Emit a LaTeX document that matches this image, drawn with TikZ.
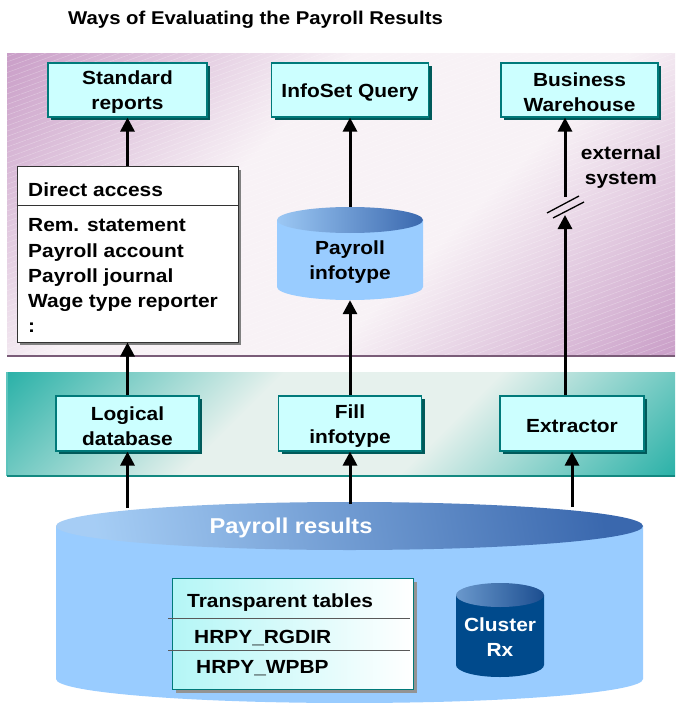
\documentclass[tikz,border=0pt]{standalone}
\usepackage{fontspec}
\setmainfont{Liberation Sans}[FakeStretch=1.1]
\usetikzlibrary{arrows.meta,shadows,patterns.meta,calc}
\definecolor{boxfill}{HTML}{CCFFFF}
\definecolor{boxline}{HTML}{007A7A}
\definecolor{boxshadow}{HTML}{005A5A}
\definecolor{panelpurple}{HTML}{C596C3}
\definecolor{panellight}{HTML}{F8F2F6}
\definecolor{panelline}{HTML}{7A5C78}
\definecolor{tealdark}{HTML}{18ABA1}
\definecolor{teallight}{HTML}{E6F1ED}
\definecolor{cylbody}{HTML}{99CCFF}
\definecolor{cyltopL}{HTML}{9CC8F4}
\definecolor{cyltopR}{HTML}{3A68AE}
\definecolor{clbody}{HTML}{004A8C}
\definecolor{cltopL}{HTML}{6A98CC}
\definecolor{cltopR}{HTML}{1C4E90}
\definecolor{ttcyan}{HTML}{B4F6F6}
\pgfdeclareverticalshading{purpshade}{100bp}{color(0bp)=(panelpurple); color(12bp)=(panelpurple); color(40bp)=(panellight); color(60bp)=(panellight); color(88bp)=(panelpurple); color(100bp)=(panelpurple)}
\pgfdeclareverticalshading{tealshade}{100bp}{color(0bp)=(tealdark); color(12bp)=(tealdark); color(40bp)=(teallight); color(60bp)=(teallight); color(88bp)=(tealdark); color(100bp)=(tealdark)}
\begin{document}
\begin{tikzpicture}[x=1pt,y=-1pt,
  font=\bfseries\fontsize{19}{25}\selectfont,
  box/.style={draw=boxline, line width=1.2pt, fill=boxfill, minimum height=54pt,
    inner sep=2pt,
    drop shadow={shadow xshift=3pt, shadow yshift=-3pt, fill=boxshadow, opacity=1},
    label={[align=center, yshift=-2.5pt, inner sep=0pt]center:#1}},
  arr/.style={line width=3pt, -{Triangle[width=14pt,length=14pt]}},
  lbl/.style={anchor=base west, inner sep=0pt}]
\useasboundingbox (0,0) rectangle (675,703);
\fill[white] (0,0) rectangle (675,703);
% title
\node[lbl, font=\bfseries\fontsize{18.5}{22}\selectfont] (title) at (68,25) {Ways of Evaluating the Payroll Results};
% purple panel
\shade[shading=purpshade, shading angle=45] (7,54) rectangle (675,356);
\fill[pattern={Lines[angle=20,distance=5pt,line width=0.5pt]}, pattern color=white, opacity=0.3] (7,54) rectangle (675,356);
\draw[line width=2pt, panelline] (7,356) -- (675,356);
% teal panel
\shade[shading=tealshade, shading angle=45] (7,372) rectangle (675,476);
\draw[line width=1.5pt, tealdark!70!white] (7,372) -- (7,476);
\draw[line width=1.2pt, tealdark!80!black] (7,476) -- (675,476);
% top boxes
\node[box={Standard\\reports}, minimum width=159pt] (std) at (127.5,90) {};
\node[box={InfoSet Query}, minimum width=157pt] (isq) at (350,90) {};
\node[box={Business\\Warehouse}, minimum width=157pt] (bw) at (579.5,90) {};
% direct access
\node[draw=black!80, line width=1pt, fill=white, minimum width=221pt, minimum height=175pt,
  drop shadow={shadow xshift=3pt, shadow yshift=-3pt, fill=gray, opacity=1}] (da) at (127.5,254.5) {};
\coordinate (hl) at (0,206);
\draw[line width=1pt, black!80] (da.west |- hl) -- (da.east |- hl);
\node[lbl] (da0) at (28,197) {Direct access};
\node[lbl] (da1) at (28,232) {Rem. statement};
\node[lbl] (da2) at (28,257) {Payroll account};
\node[lbl] (da3) at (28,282) {Payroll journal};
\node[lbl] (da4) at (28,307) {Wage type reporter};
\node[lbl] (da5) at (28,332) {:};
% payroll infotype cylinder
\fill[cylbody] (277,220) -- (277,287) arc[start angle=180, end angle=0, x radius=73, y radius=13] -- (423,220) -- cycle;
\shade[left color=cyltopL, right color=cyltopR] (350,220) ellipse[x radius=73, y radius=13];
\node[minimum width=146pt, minimum height=93pt, inner sep=0pt] (pit) at (350,253.5) {};
\node[align=center] (pitt) at (350,262) {Payroll\\infotype};
% middle boxes
\node[box={Logical\\database}, minimum width=143pt, minimum height=55pt] (ldb) at (127.5,423.5) {};
\node[box={Fill\\infotype}, minimum width=143pt, minimum height=55pt] (fit) at (350,423.5) {};
\node[box={Extractor}, minimum width=144pt, minimum height=55pt] (ext) at (572,423.5) {};
% big cylinder
\fill[cylbody] (56,526) -- (56,679) arc[start angle=180, end angle=0, x radius=293.5, y radius=24] -- (643,526) -- cycle;
\shade[left color=cyltopL!90!white, right color=cyltopR, shading angle=100] (349.5,526) ellipse[x radius=293.5, y radius=24];
\node[text=white, font=\bfseries\fontsize{21.5}{26}\selectfont] (prt) at (291,528) {Payroll results};
% transparent tables
\node[draw=boxline, line width=1pt, left color=ttcyan, right color=white, minimum width=241pt, minimum height=111pt,
  drop shadow={shadow xshift=4pt, shadow yshift=-4pt, fill=gray!85, opacity=1}] (tt) at (292.5,633.5) {};
\draw[line width=1pt, gray!70!black] (168,618) -- (410,618);
\draw[line width=1pt, gray!70!black] (168,650) -- (410,650);
\node[lbl] (tt0) at (187,607) {Transparent tables};
\node[lbl] (tt1) at (194,643) {HRPY\_RGDIR};
\node[lbl] (tt2) at (196,673) {HRPY\_WPBP};
% cluster
\fill[clbody] (456,595) -- (456,665) arc[start angle=180, end angle=0, x radius=44, y radius=12] -- (544,595) -- cycle;
\shade[left color=cltopL, right color=cltopR] (500,595) ellipse[x radius=44, y radius=12];
\node[text=white, align=center] (clu) at (500,637) {Cluster\\Rx};
% connectors
\coordinate (s1) at (127.5,508);
\coordinate (s2) at (350,504);
\coordinate (s3) at (572,507);
\coordinate (b1) at (565,215);
\coordinate (b2) at (565,197);
\draw[arr] (s1) -- (ldb.south);
\draw[arr] (ldb.north) -- (da.south);
\draw[arr] (da.north) -- (std.south);
\draw[arr] (s2) -- (fit.south);
\draw[arr] (fit.north) -- (pit.south);
\draw[arr] (pit.north) -- (isq.south);
\draw[arr] (s3) -- (ext.south);
\draw[arr] (ext.north -| b1) -- (b1);
\draw[arr] (b2) -- (bw.south -| b2);
\draw[line width=1.3pt] (547,213) -- (579,196);
\draw[line width=1.3pt] (553,218) -- (584,202);
\node[align=center] (exs) at (621,167) {external\\system};
\end{tikzpicture}
\end{document}
